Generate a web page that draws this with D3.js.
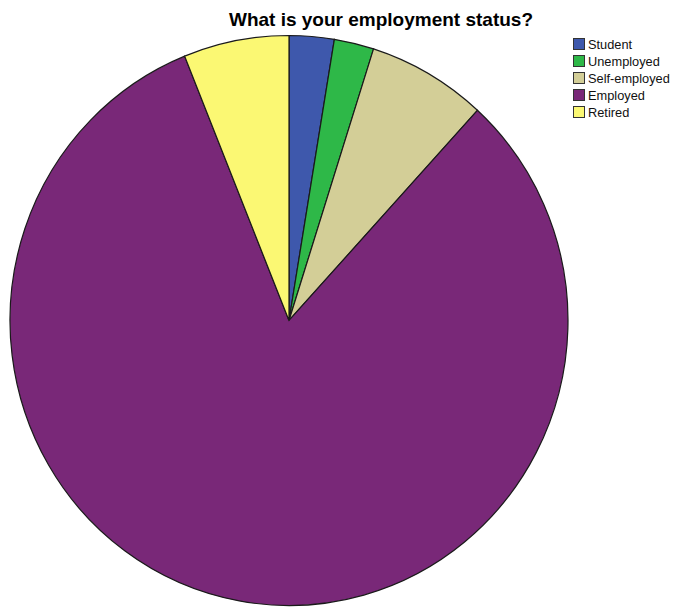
<!DOCTYPE html>
<html>
<head>
<meta charset="utf-8">
<script src="https://cdn.jsdelivr.net/npm/d3@7/dist/d3.min.js"></script>
<style>
  body { margin: 0; background: #fff; }
  text { font-family: Arial, "Liberation Sans", sans-serif; }
</style>
</head>
<body>
<svg id="chart" width="673" height="609"></svg>
<script>
// Employment status breakdown (percent of respondents)
const categories = ["Student", "Unemployed", "Self-employed", "Employed", "Retired"];
const values = [2.6, 2.3, 6.9, 82.1, 6.1];
const colors = ["#3E58AC", "#2EB848", "#D3CE97", "#792878", "#FBF873"];

const svg = d3.select("#chart");
const cx = 289, cy = 320.5, rx = 279, ry = 285;

svg.append("text")
  .attr("x", 381).attr("y", 26)
  .attr("text-anchor", "middle")
  .attr("font-size", 19).attr("font-weight", "bold")
  .text("What is your employment status?");

const pie = d3.pie().sort(null).value(d => d)(values);
const arc = d3.arc().innerRadius(0).outerRadius(rx);

const g = svg.append("g")
  .attr("transform", `translate(${cx},${cy}) scale(1,${ry / rx})`);

g.selectAll("path").data(pie).join("path")
  .attr("d", arc)
  .attr("fill", (d, i) => colors[i])
  .attr("stroke", "#1a1a1a")
  .attr("stroke-width", 1.2)
  .attr("vector-effect", "non-scaling-stroke");

const legend = svg.append("g").attr("transform", "translate(573,38)");
const rows = legend.selectAll("g").data(categories).join("g")
  .attr("transform", (d, i) => `translate(0,${i * 17})`);
rows.append("rect")
  .attr("x", 0.5).attr("y", 0.5).attr("width", 11).attr("height", 11)
  .attr("fill", (d, i) => colors[i])
  .attr("stroke", "#333").attr("stroke-width", 1);
rows.append("text")
  .attr("x", 15).attr("y", 11)
  .attr("font-size", 12.8)
  .attr("fill", "#111")
  .text(d => d);
</script>
</body>
</html>
